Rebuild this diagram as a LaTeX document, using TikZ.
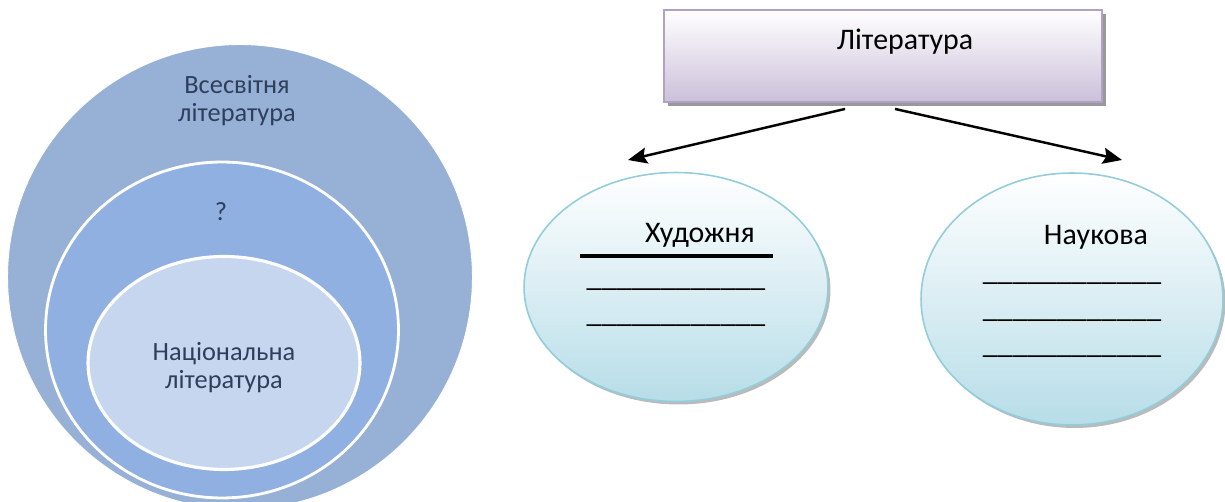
\documentclass[tikz,border=0pt]{standalone}
\usepackage{fontspec}
\setmainfont{Carlito}
\usepackage{tikz}
\usetikzlibrary{
  shapes.geometric
  , arrows.meta
  , shadows
}
\definecolor{worldblue}{HTML}{97B1D6}
\definecolor{midblue}{HTML}{8FB0E0}
\definecolor{nationblue}{HTML}{C6D6EF}
\definecolor{circletext}{HTML}{2E3F5C}
\definecolor{kindedge}{HTML}{92CDDC}
\definecolor{kindfill}{HTML}{B7DDE8}
\definecolor{boxedge}{HTML}{B2A1C7}
\definecolor{boxfill}{HTML}{CCC0DA}
\def\blank{\_\_\_\_\_\_\_\_\_\_\_\_}

\begin{document}
\begin{tikzpicture}[x=0.02cm, y=-0.02cm]
      \tikzstyle{circle template}=[ellipse, draw=white, inner sep=0pt]
      \tikzstyle{kind template}=[ellipse, draw=kindedge, line width=0.9pt, top color=white, bottom color=kindfill, drop shadow={shadow xshift=0.05cm, shadow yshift=-0.06cm, fill=black!45, opacity=0.6}]
      \tikzstyle{circle text}=[text=circletext, align=center, font=\fontsize{15}{16}\selectfont]
      \tikzstyle{scheme text}=[anchor=base, font=\fontsize{17}{19}\selectfont]

      \useasboundingbox (0,0) rectangle (1225,502);

      % nested circles
      \node [circle template, line width=0.5pt, fill=worldblue, minimum width=9.3cm, minimum height=9.3cm] (world) at (240,277){};
      \node [circle template, line width=1.6pt, fill=midblue, minimum width=7.06cm, minimum height=6.72cm] (mid) at (222,330){};
      \node [circle template, line width=1.8pt, fill=nationblue, minimum width=5.44cm, minimum height=4.26cm] (nation) at (224,363){};

      \node [circle text] (worldtext) at (237,101){Всесвітня\\література};
      \node [circle text] (midtext) at (221,212){?};
      \node [circle text] (nationtext) at (224,368){Національна\\література};

      % scheme
      \node [rectangle, draw=boxedge, line width=1.1pt, top color=white, bottom color=boxfill, minimum width=8.76cm, minimum height=1.84cm, drop shadow={shadow xshift=0.08cm, shadow yshift=-0.08cm, fill=black!50, opacity=0.8}] (lit) at (883,56){};
      \node [scheme text] (littext) at (905,50){Література};

      \node [kind template, minimum width=6.08cm, minimum height=4.58cm] (art) at (676,287){};
      \node [kind template, minimum width=6.04cm, minimum height=5.04cm] (sci) at (1072,299){};

      \coordinate (artin) at (628,160);
      \coordinate (sciin) at (1122,160);
      \draw [line width=1.4pt, -{Stealth[length=0.38cm, width=0.32cm, inset=0.06cm]}] ([xshift=-0.76cm, yshift=-0.12cm]lit.south) -- (artin);
      \draw [line width=1.4pt, -{Stealth[length=0.38cm, width=0.32cm, inset=0.06cm]}] ([xshift=0.24cm, yshift=-0.12cm]lit.south) -- (sciin);

      \node [scheme text] (arttext) at (700,243){Художня};
      \draw [line width=0.08cm] (580,256) -- (773,256);
      \node [scheme text] (artline1) at (676,287){\blank};
      \node [scheme text] (artline2) at (676,323){\blank};

      \node [scheme text] (scitext) at (1096,245){Наукова};
      \node [scheme text] (sciline1) at (1072,281){\blank};
      \node [scheme text] (sciline2) at (1072,318){\blank};
      \node [scheme text] (sciline3) at (1072,354){\blank};

    \end{tikzpicture}
\end{document}
